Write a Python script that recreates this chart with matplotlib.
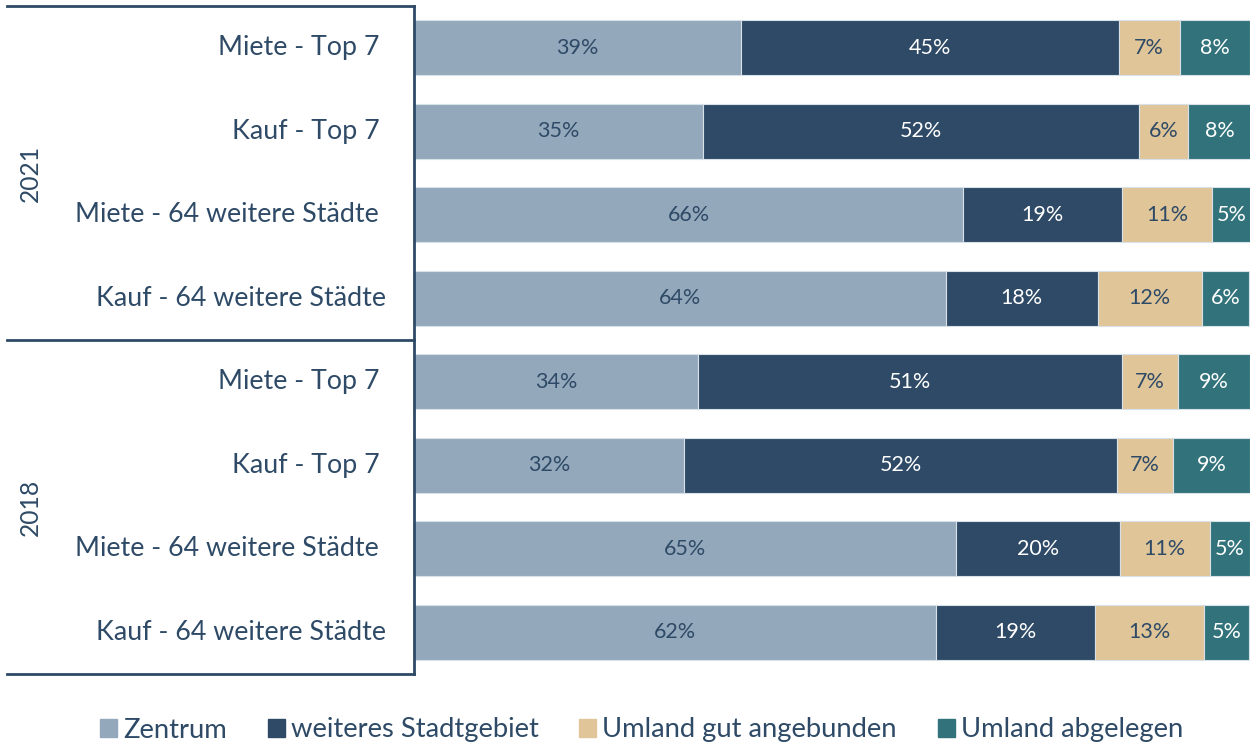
import matplotlib
matplotlib.use("Agg")
import matplotlib.pyplot as plt
from matplotlib.patches import Patch

plt.rcParams['font.family'] = ['Lato', 'DejaVu Sans']

categories = ["Miete - Top 7 ", "Kauf - Top 7 ", "Miete - 64 weitere Städte ", "Kauf - 64 weitere Städte",
              "Miete - Top 7 ", "Kauf - Top 7 ", "Miete - 64 weitere Städte ", "Kauf - 64 weitere Städte"]
years = ["2021", "2018"]
series = ["Zentrum", "weiteres Stadtgebiet", "Umland gut angebunden", "Umland abgelegen"]
zentrum = [39.1, 34.6, 65.7, 63.6, 34.0, 32.3, 64.8, 62.4]
weiteres = [45.2, 52.1, 19.0, 18.2, 50.7, 51.8, 19.6, 19.1]
umland_gut = [7.3, 5.9, 10.8, 12.4, 6.7, 6.7, 10.8, 13.0]
umland_ab = [8.4, 7.6, 4.6, 5.7, 8.6, 9.2, 4.8, 5.4]

colors = ["#94A8BC", "#2E4A66", "#E0C598", "#32737B"]
label_colors = ["#2E4A66", "white", "#2E4A66", "white"]
text_color = "#2E4A66"

fig = plt.figure(figsize=(12.54, 7.42), dpi=100)
ax = fig.add_axes([414/1254, 1-674/742, 836/1254, 668/742])

data = [zentrum, weiteres, umland_gut, umland_ab]
y = list(range(len(categories)))
left = [0.0]*len(categories)
for s, vals in enumerate(data):
    ax.barh(y, vals, left=left, height=0.66, color=colors[s],
            edgecolor="#D9E1E8", linewidth=0.8, label=series[s])
    for i, v in enumerate(vals):
        ax.text(left[i] + v/2, y[i], f"{round(v)}%", ha="center", va="center",
                color=label_colors[s], fontsize=15.5)
    left = [l + v for l, v in zip(left, vals)]

ax.set_xlim(0, 100)
ax.set_ylim(len(categories) - 0.5, -0.5)
ax.set_xticks([])
ax.set_yticks([])
for sp in ax.spines.values():
    sp.set_visible(False)

line_kw = dict(color=text_color, linewidth=2, transform=ax.transAxes, clip_on=False)
xl = (7 - 414) / 836
ax.plot([0, 0], [0, 1], **line_kw)
for yy in [0.0, 0.5, 1.0]:
    ax.plot([xl, 0], [yy, yy], **line_kw)

for i, c in enumerate(categories):
    ax.text((386 - 414) / 836, i, c, ha="right", va="center", fontsize=19.3,
            color=text_color, transform=ax.get_yaxis_transform(), clip_on=False)

for k, yr in enumerate(years):
    ax.text((30 - 414) / 836, 0.75 - 0.5*k, yr, rotation=90, ha="center", va="center",
            fontsize=17.7, color=text_color, transform=ax.transAxes)

handles = [Patch(color=colors[s], label=series[s]) for s in range(4)]
leg = fig.legend(handles=handles, loc="center", bbox_to_anchor=(641.5/1254, 1-730/742), ncol=4,
                 frameon=False, fontsize=19.7, handlelength=0.62, handleheight=0.62,
                 handletextpad=0.22, columnspacing=1.5, labelcolor=text_color)

fig.savefig("out.png", dpi=100)
